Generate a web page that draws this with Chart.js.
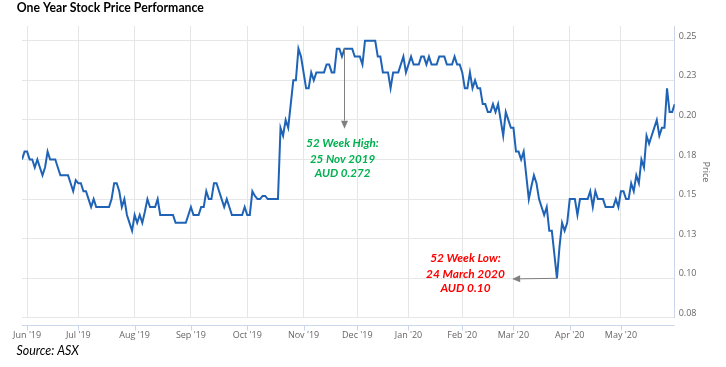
<!DOCTYPE html>
<html><head><meta charset="utf-8">
<script src="https://cdn.jsdelivr.net/npm/chart.js@4.4.1/dist/chart.umd.min.js"></script>
<style>html,body{margin:0;padding:0;background:#fff;}#wrap{width:726px;height:367px;position:relative;}</style>
</head><body><div id="wrap"><canvas id="c" width="726" height="367"></canvas></div>
<script>
// Daily closing prices (trading days, ~30 May 2019 to ~29 May 2020)
const prices = [
  0.175,0.18,0.18,0.175,0.175,0.17,0.175,0.17,0.165,0.17,
  0.18,0.175,0.175,0.175,0.17,0.165,0.165,0.165,0.165,0.16,
  0.155,0.162,0.16,0.16,0.155,0.155,0.15,0.145,0.15,0.145,
  0.145,0.145,0.145,0.145,0.145,0.15,0.16,0.16,0.155,0.145,
  0.15,0.14,0.135,0.13,0.14,0.135,0.14,0.135,0.142,0.15,
  0.145,0.145,0.145,0.15,0.14,0.14,0.14,0.14,0.14,0.14,
  0.135,0.135,0.135,0.135,0.135,0.14,0.145,0.14,0.14,0.14,
  0.145,0.145,0.155,0.15,0.15,0.16,0.16,0.155,0.15,0.145,
  0.15,0.145,0.14,0.14,0.14,0.14,0.14,0.145,0.14,0.14,
  0.155,0.152,0.15,0.15,0.152,0.152,0.15,0.15,0.15,0.15,
  0.15,0.195,0.19,0.2,0.195,0.21,0.225,0.225,0.245,0.24,
  0.23,0.22,0.22,0.23,0.225,0.23,0.23,0.23,0.23,0.235,
  0.235,0.23,0.23,0.245,0.245,0.24,0.245,0.245,0.245,0.245,
  0.24,0.24,0.24,0.235,0.25,0.25,0.25,0.25,0.25,0.24,
  0.24,0.23,0.23,0.23,0.22,0.23,0.23,0.23,0.235,0.24,
  0.23,0.235,0.24,0.235,0.235,0.235,0.24,0.24,0.235,0.24,
  0.235,0.235,0.235,0.24,0.24,0.24,0.235,0.235,0.235,0.24,
  0.235,0.235,0.23,0.22,0.22,0.23,0.22,0.225,0.22,0.22,
  0.21,0.21,0.205,0.205,0.21,0.205,0.21,0.2,0.19,0.205,
  0.2,0.195,0.195,0.18,0.18,0.175,0.18,0.165,0.15,0.158,
  0.165,0.16,0.15,0.145,0.14,0.145,0.13,0.13,0.115,0.10,
  0.12,0.135,0.13,0.135,0.15,0.15,0.15,0.14,0.15,0.15,
  0.15,0.15,0.155,0.145,0.155,0.15,0.15,0.15,0.145,0.145,
  0.145,0.145,0.15,0.145,0.155,0.155,0.15,0.15,0.16,0.155,
  0.165,0.16,0.175,0.17,0.19,0.185,0.19,0.195,0.20,0.19,
  0.195,0.195,0.22,0.205,0.205,0.21
];
// Month tick positions (trading-day index of first day of month) and labels
const monthTickIndex = [2,22,44,66,88,110,131,151,172,192,214,234];
const monthTickLabels = ["Jun '19","Jul '19","Aug '19","Sep '19","Oct '19","Nov '19","Dec '19","Jan '20","Feb '20","Mar '20","Apr '20","May '20"];
const yTickValues = [0.075,0.1,0.125,0.15,0.175,0.2,0.225,0.25];
const yTickLabels = ['0.08','0.10','0.13','0.15','0.18','0.20','0.23','0.25'];
const titleText = 'One Year Stock Price Performance';
const sourceText = 'Source: ASX';
const yAxisTitle = 'Price';
const highNote = ['52 Week High:','25 Nov 2019','AUD 0.272'];
const lowNote = ['52 Week Low:','24 March 2020','AUD 0.10'];
// annotation anchors (data coordinates)
const highArrow = {idx:126, from:0.245, to:0.1945};
const lowArrow = {idx:209, value:0.10, toIdx:191.5, toValue:0.0996};

function fitSize(ctx, text, style, family, target){
  ctx.font = style + ' 100px ' + family;
  return 100 * target / ctx.measureText(text).width;
}
function arrow(ctx, x1, y1, x2, y2){
  ctx.save();
  ctx.strokeStyle = '#7f7f7f'; ctx.fillStyle = '#7f7f7f'; ctx.lineWidth = 1;
  const a = Math.atan2(y2-y1, x2-x1), L = 8, W = 3.5;
  const bx = x2 - L*Math.cos(a), by = y2 - L*Math.sin(a);
  ctx.beginPath(); ctx.moveTo(x1,y1); ctx.lineTo(bx,by); ctx.stroke();
  ctx.beginPath(); ctx.moveTo(x2,y2);
  ctx.lineTo(bx + W*Math.sin(a), by - W*Math.cos(a));
  ctx.lineTo(bx - W*Math.sin(a), by + W*Math.cos(a));
  ctx.closePath(); ctx.fill();
  ctx.restore();
}

const decor = {
  id:'decor',
  afterDraw(chart){
    const ctx = chart.ctx, xs = chart.scales.x, ys = chart.scales.y, ca = chart.chartArea;
    ctx.save();
    // separate x-axis line with tick marks below the plot
    const ay = Math.round(ca.bottom + 6.7) + 0.5;
    ctx.strokeStyle = '#ccd6eb'; ctx.lineWidth = 1;
    ctx.beginPath(); ctx.moveTo(ca.left, ay); ctx.lineTo(ca.right, ay); ctx.stroke();
    monthTickIndex.forEach(v => {
      const px = Math.round(xs.getPixelForValue(v)) + 0.5;
      ctx.beginPath(); ctx.moveTo(px, ay); ctx.lineTo(px, ay + 5); ctx.stroke();
    });
    // title
    ctx.textBaseline = 'middle'; ctx.textAlign = 'left';
    let s = fitSize(ctx, titleText, 'bold', 'Lato', 187.5);
    ctx.font = 'bold ' + s + 'px Lato'; ctx.fillStyle = '#000';
    ctx.fillText(titleText, 16.7, 8);
    // source
    s = fitSize(ctx, sourceText, 'italic', 'Lato', 62.5);
    ctx.font = 'italic ' + s + 'px Lato'; ctx.fillStyle = '#000';
    ctx.fillText(sourceText, 16.5, 351);
    // high annotation
    const hx = xs.getPixelForValue(highArrow.idx);
    const hy1 = ys.getPixelForValue(highArrow.from), hy2 = ys.getPixelForValue(highArrow.to);
    arrow(ctx, hx, hy1, hx, hy2);
    s = fitSize(ctx, highNote[0], 'italic bold', 'Lato', 72.6);
    ctx.font = 'italic bold ' + s + 'px Lato'; ctx.fillStyle = '#00b050'; ctx.textAlign = 'center';
    [15, 30.5, 45].forEach((dy, i) => ctx.fillText(highNote[i], hx - 2, hy2 + dy));
    // low annotation
    const lx1 = xs.getPixelForValue(lowArrow.idx), ly1 = ys.getPixelForValue(lowArrow.value);
    const lx2 = xs.getPixelForValue(lowArrow.toIdx), ly2 = ys.getPixelForValue(lowArrow.toValue);
    arrow(ctx, lx1, ly1, lx2, ly2);
    s = fitSize(ctx, lowNote[0], 'italic bold', 'Lato', 70.7);
    ctx.font = 'italic bold ' + s + 'px Lato'; ctx.fillStyle = '#ff0000'; ctx.textAlign = 'center';
    [-20.3, -4.3, 9.7].forEach((dy, i) => ctx.fillText(lowNote[i], lx2 - 46.7, ly2 + dy));
    ctx.restore();
  }
};

new Chart(document.getElementById('c'), {
  type:'line',
  data:{ datasets:[{
    data: prices.map((v,i) => ({x:i, y:v})),
    borderColor:'#1f63b6', borderWidth:2, pointRadius:0, tension:0, fill:false
  }]},
  options:{
    responsive:false, animation:false, devicePixelRatio:1,
    layout:{padding:{left:22, top:26, right:10.7, bottom:14.3}},
    plugins:{legend:{display:false}, tooltip:{enabled:false}, title:{display:false}},
    scales:{
      x:{
        type:'linear', min:0, max:prices.length-1,
        afterBuildTicks: s => { s.ticks = monthTickIndex.map(v => ({value:v})); },
        ticks:{autoSkip:false, maxRotation:0, padding:12, color:'#666',
          font:{family:'"Open Sans"', size:9}, callback:(v,i) => monthTickLabels[i]},
        grid:{color:'#e6e6e6', drawTicks:false}, border:{display:false}
      },
      y:{
        position:'right', min:0.075, max:0.2593,
        afterBuildTicks: s => { s.ticks = yTickValues.map(v => ({value:v})); },
        ticks:{padding:4, labelOffset:-4.5, color:'#666',
          font:{family:'"Open Sans"', size:9}, callback:(v,i) => yTickLabels[i]},
        grid:{color:'#e6e6e6', drawTicks:false},
        border:{display:true, color:'#ccd6eb'},
        title:{display:true, text:yAxisTitle, color:'#666', padding:{top:4, bottom:0},
          font:{family:'"Open Sans"', size:9}}
      }
    }
  },
  plugins:[decor]
});
</script></body></html>
